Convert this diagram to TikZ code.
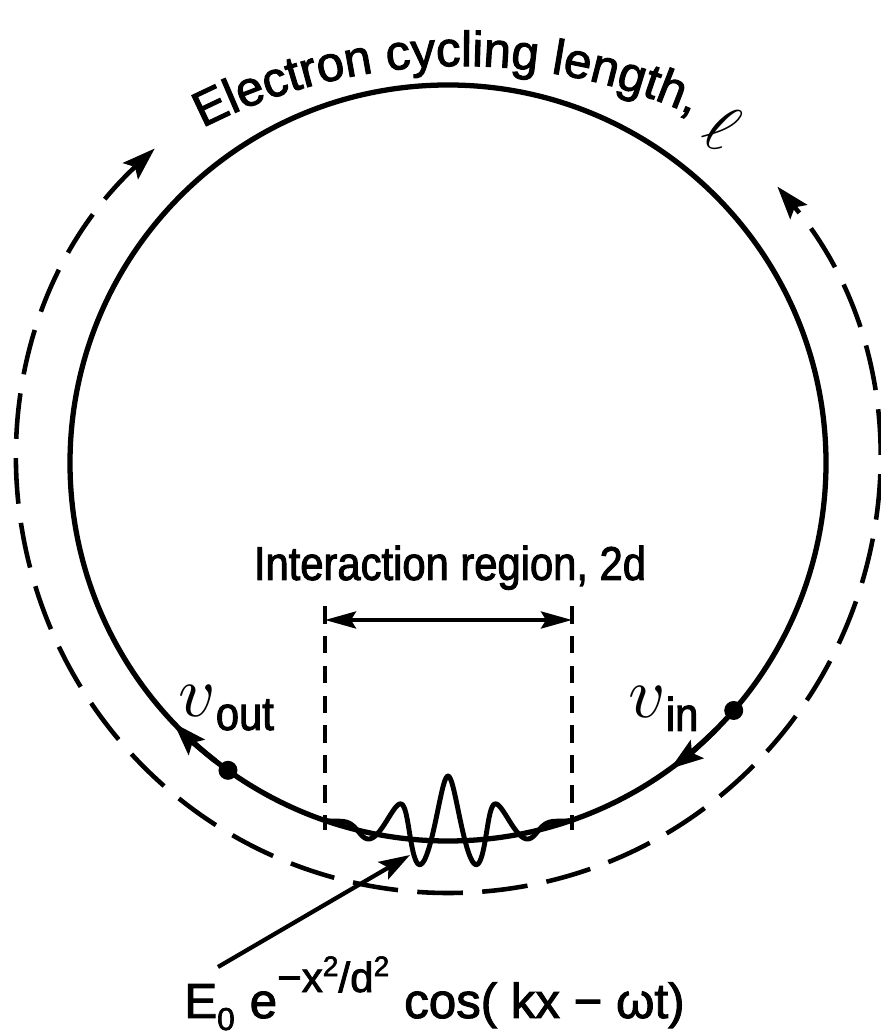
\documentclass[tikz,border=0pt]{standalone}
\usepackage{fontspec}
\setmainfont{Liberation Sans}[FakeStretch=0.88,FakeBold=2]
\newfontfamily\arcfont{Liberation Sans}[FakeBold=2]
\usetikzlibrary{arrows.meta,calc,decorations.text}
\definecolor{Ink}{HTML}{000000}
\newcommand{\velo}[1]{\scalebox{4.1}{\normalsize$v$}\raisebox{-0.26cm}{#1}}

\begin{document}
\begin{tikzpicture}[x=0.02cm,y=0.02cm,every node/.style={text=Ink,inner sep=0pt},orbit/.style={draw=Ink,line width=3pt},pathlen/.style={draw=Ink,line width=2.6pt,dash pattern=on 26pt off 11pt},edgeline/.style={draw=Ink,line width=2.3pt,dash pattern=on 10pt off 7pt},tip/.style={-{Stealth[length=0.66cm,width=0.44cm,inset=0.12cm]}},span/.style={draw=Ink,line width=2.2pt,{Stealth[length=0.62cm,width=0.34cm,inset=0.1cm]}-{Stealth[length=0.62cm,width=0.34cm,inset=0.1cm]}},pointer/.style={draw=Ink,line width=2.4pt,-{Stealth[length=0.62cm,width=0.4cm,inset=0.12cm]}},label/.style={font=\fontsize{27}{30}\selectfont},electron/.style={fill=Ink,circle,minimum size=0.38cm}]
\useasboundingbox (0,0) rectangle (880,1034);
\coordinate (ctr) at (448,571); \coordinate (textctr) at (461,399);
\draw[orbit] (ctr) circle[radius=378];
\draw[pathlen,{Stealth[length=0.66cm,width=0.44cm,inset=0.12cm]}-{Stealth[length=0.66cm,width=0.44cm,inset=0.12cm]}] ([shift={(133:430)}]ctr) arc[start angle=133,end angle=400,radius=430];
\path[decorate,decoration={text along path,text={|\arcfont\fontsize{28}{30}\selectfont|Electron cycling length,},text align={left indent=0pt}}] ([shift={(117:569)}]textctr) arc[start angle=117,end angle=60,radius=569];
\node[rotate=-28] (ell) at (722,906) {\scalebox{3.8}{\normalsize$\ell$}};
\node[label,anchor=base] (region) at (450,454) {Interaction region, 2d};
\coordinate (edgeLt) at (325,428); \coordinate (edgeLb) at (325,204); \coordinate (edgeRt) at (572,428); \coordinate (edgeRb) at (572,204);
\draw[edgeline] (edgeLt) -- (edgeLb); \draw[edgeline] (edgeRt) -- (edgeRb);
\coordinate (spanL) at (325,414); \coordinate (spanR) at (572,414); \draw[span] (spanL) -- (spanR);
\draw[orbit,line width=2.8pt] plot[domain=-124:124,samples=241,smooth,variable=\u] ({448+(378-47*exp(0-(\u/66)*(\u/66))*(cos(6.606*\u)+0.38))*cos(-90+\u*0.15157)},{571+(378-47*exp(0-(\u/66)*(\u/66))*(cos(6.606*\u)+0.38))*sin(-90+\u*0.15157)});
\node[electron] (eout) at ([shift={(234.4:378)}]ctr) {}; \node[electron] (ein) at ([shift={(-40.9:378)}]ctr) {};
\draw[orbit,tip] ([shift={(232:378)}]ctr) arc[start angle=232,end angle=223.5,radius=378];
\draw[orbit,tip] ([shift={(-45:378)}]ctr) arc[start angle=-45,end angle=-54,radius=378];
\node[label,anchor=base west] (vout) at (178,317) {\velo{out}};
\node[label,anchor=base west] (vin) at (628,316) {\velo{in}};
\node[anchor=base west,font=\arcfont\fontsize{28}{30}\selectfont] (field) at (184,16) {E\raisebox{-0.24cm}{\fontsize{18}{20}\selectfont 0}\hspace{0.3cm}e\raisebox{0.52cm}{\fontsize{24}{26}\selectfont −x\raisebox{0.32cm}{\fontsize{16}{17}\selectfont 2}/d\raisebox{0.32cm}{\fontsize{16}{17}\selectfont 2}}\hspace{0.3cm}cos( kx − ωt)};
\coordinate (trough) at (410,179); \coordinate (fieldtail) at (218,67);
\draw[pointer] (fieldtail) -- (trough);
\end{tikzpicture}
\end{document}
